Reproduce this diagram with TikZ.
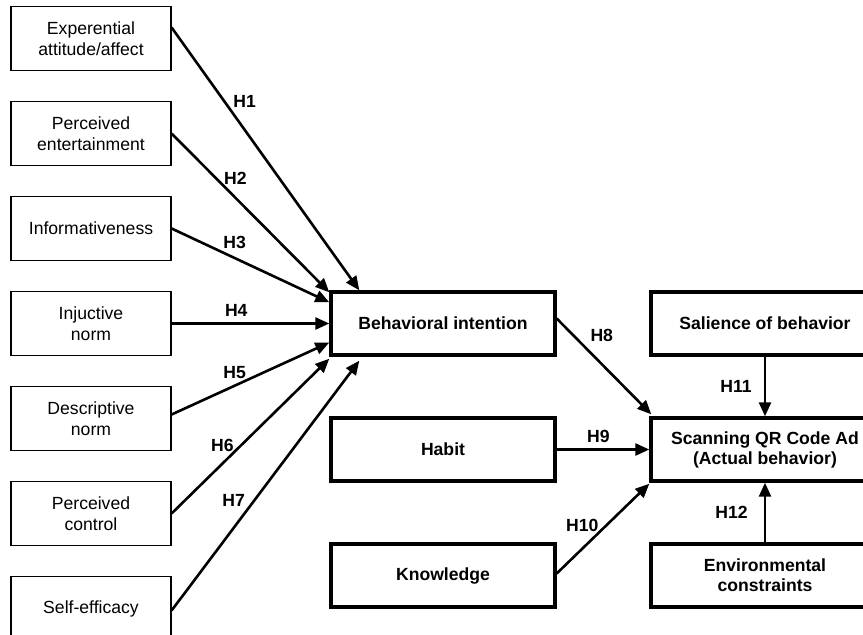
\documentclass[tikz,border=0pt]{standalone}
\usepackage{fontspec}
\setmainfont{Liberation Sans}
\usepackage{tikz}
\usetikzlibrary{positioning, arrows.meta}
\tikzset{
->, % every edge is a directed path
>={Triangle[length=14pt, width=12pt]}, % filled arrow heads
x=1pt, y=1pt,
node distance=95pt, % distance between the centres of the left boxes
every edge/.style={draw, line width=2.6pt}, % thick connectors
factor/.style={draw, line width=1.2pt, minimum width=160pt, minimum height=64pt, align=center, font=\fontsize{17.6}{21}\selectfont}, % left boxes
construct/.style={draw, line width=3.4pt, minimum width=224pt, minimum height=63pt, align=center, font=\bfseries\fontsize{17.6}{20}\selectfont}, % middle and right boxes
hyp/.style={font=\bfseries\fontsize{17.6}{20}\selectfont, inner sep=2pt}, % hypothesis labels
}
\begin{document}
\begin{tikzpicture}
            \useasboundingbox (0,0) rectangle (863,-635);
            \clip (0,0) rectangle (863,-635);
            \node[factor] (exp) at (91,-38.5) {Experential\\attitude/affect};
            \node[factor, below of=exp] (ent) {Perceived\\entertainment};
            \node[factor, below of=ent] (inf) {Informativeness};
            \node[factor, below of=inf] (inj) {Injuctive\\norm};
            \node[factor, below of=inj] (des) {Descriptive\\norm};
            \node[factor, below of=des] (ctl) {Perceived\\control};
            \node[factor, below of=ctl] (eff) {Self-efficacy};
            \node[construct, right of=inj, node distance=352pt] (bi) {Behavioral intention};
            \node[construct, below of=bi, node distance=126pt] (hab) {Habit};
            \node[construct, below of=hab, node distance=126pt] (kno) {Knowledge};
            \node[construct, right of=bi, node distance=322pt, minimum width=228pt] (sal) {Salience of behavior};
            \node[construct, right of=hab, node distance=322pt, minimum width=228pt] (scan) {Scanning QR Code Ad\\(Actual behavior)};
            \node[construct, right of=kno, node distance=322pt, minimum width=228pt] (env) {Environmental\\constraints};
            \path
                ([yshift=11pt]exp.east) edge node[hyp, pos=.28, right=6pt] {H1} ([xshift=30pt]bi.north west)
                (ent.east) edge node[hyp, pos=.28, right=5pt] {H2} ([yshift=-2pt]bi.north west)
                (inf.east) edge node[hyp, pos=.4, above=6pt] {H3} ([yshift=-12pt]bi.north west)
                (inj.east) edge node[hyp, pos=.41, above=4pt] {H4} (bi.west)
                ([yshift=4pt]des.east) edge node[hyp, pos=.4, above=4pt] {H5} ([yshift=-19pt]bi.west)
                (ctl.east) edge node[hyp, pos=.44, left=4pt] {H6} ([yshift=-2pt]bi.south west)
                ([yshift=-2pt]eff.east) edge node[hyp, pos=.44, left=6pt] {H7} ([xshift=30pt, yshift=-4pt]bi.south west)

                ([yshift=5pt]bi.east) edge node[hyp, pos=.3, above right=3pt] {H8} ([xshift=2pt, yshift=2pt]scan.north west)
                (hab.east) edge node[hyp, pos=.45, above=4pt] {H9} (scan.west)
                ([yshift=2pt]kno.east) edge node[hyp, pos=.53, left=4pt] {H10} ([yshift=-1pt]scan.south west)
                (sal.south) edge node[hyp, pos=.5, left=10pt] {H11} (scan.north)
                (env.north) edge node[hyp, pos=.5, left=14pt] {H12} (scan.south)
                ;
            \end{tikzpicture}
\end{document}
